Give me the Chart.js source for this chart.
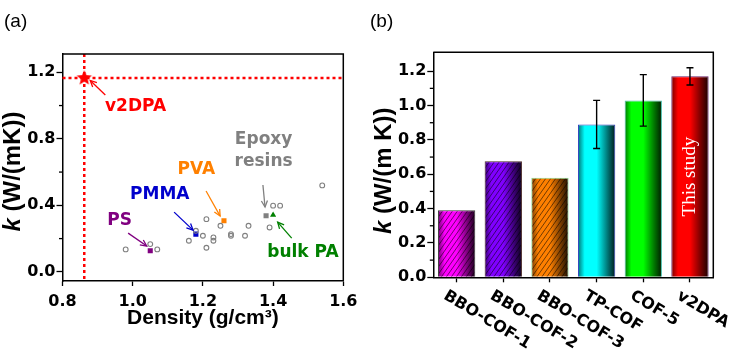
<!DOCTYPE html>
<html>
<head>
<meta charset="utf-8">
<script src="https://cdn.jsdelivr.net/npm/chart.js@4.4.0/dist/chart.umd.min.js"></script>
<style>
  html, body { margin: 0; padding: 0; background: #fff; }
  #wrap { position: relative; width: 742px; height: 351px; }
  .panel { position: absolute; top: 0; height: 351px; }
  #pa { left: 0; width: 370px; }
  #pb { left: 370px; width: 372px; }
</style>
</head>
<body>
<div id="wrap">
  <div class="panel" id="pa"><canvas id="chartA"></canvas></div>
  <div class="panel" id="pb"><canvas id="chartB"></canvas></div>
</div>
<script>
// ---- panel (a): k vs density ----
const otherDensity = [0.98, 1.05, 1.07, 1.16, 1.18, 1.20, 1.21, 1.21, 1.23, 1.23, 1.25, 1.28, 1.28, 1.32, 1.33, 1.39, 1.40, 1.42, 1.54];
const otherK = [0.135, 0.167, 0.135, 0.187, 0.247, 0.217, 0.317, 0.145, 0.207, 0.187, 0.277, 0.227, 0.217, 0.217, 0.277, 0.267, 0.398, 0.398, 0.52];
const polymerNames = ['PS', 'PMMA', 'PVA', 'Epoxy resins', 'bulk PA'];
const polymerDensity = [1.05, 1.18, 1.26, 1.38, 1.40];
const polymerK = [0.127, 0.227, 0.307, 0.337, 0.342];
const v2dpaDensity = [0.862];
const v2dpaK = [1.165];
const densityTicks = [0.8, 1.0, 1.2, 1.4, 1.6];
const kTicksA = [0.0, 0.4, 0.8, 1.2];
const kMinorA = [0.2, 0.6, 1.0];

// ---- panel (b): k of COFs ----
const cofNames = ['BBO-COF-1', 'BBO-COF-2', 'BBO-COF-3', 'TP-COF', 'COF-5', 'v2DPA'];
const cofK = [0.39, 0.675, 0.58, 0.89, 1.03, 1.17];
const cofErr = [0, 0, 0, 0.14, 0.15, 0.05];
const kTicksB = [0.0, 0.2, 0.4, 0.6, 0.8, 1.0, 1.2];
const kMinorB = [0.1, 0.3, 0.5, 0.7, 0.9, 1.1];

// styles
const polymerColors = ['#800080', '#0000cc', '#ff8000', '#808080', '#008000'];
const polymerShapes = ['rect', 'rect', 'rect', 'rect', 'triangle'];
const cofRGB = [[255, 0, 255], [128, 0, 255], [255, 128, 0], [0, 255, 255], [0, 255, 0], [255, 0, 0]];
const cofBorder = ['#3c3c3c', '#4a2a2a', '#8ad88a', '#3040c0', '#50c0b0', '#6a206a'];
const hatched = [true, true, true, false, false, false];

// label placement for panel (a), in data units
const notes = [
  { lines: ['v2DPA'], color: '#ff0000', at: [1.008, 0.995], from: [0.922, 1.064], to: [0.879, 1.151] },
  { lines: ['PS'], color: '#800080', at: [0.963, 0.311], from: [0.987, 0.233], to: [1.040, 0.155] },
  { lines: ['PMMA'], color: '#0000cc', at: [1.077, 0.462], from: [1.118, 0.359], to: [1.172, 0.251] },
  { lines: ['PVA'], color: '#ff8000', at: [1.181, 0.616], from: [1.209, 0.486], to: [1.249, 0.336] },
  { lines: ['Epoxy', 'resins'], color: '#808080', at: [1.373, 0.728], from: [1.371, 0.522], to: [1.377, 0.39] },
  { lines: ['bulk PA'], color: '#008000', at: [1.485, 0.116], from: [1.453, 0.203], to: [1.413, 0.299] }
];

const tickFont = { family: "'DejaVu Sans', sans-serif", size: 16, weight: 'bold' };
const titleFamily = "'Liberation Sans', Arial, sans-serif";

function shade(rgb, f) {
  return 'rgb(' + rgb.map(v => Math.round(v * f)).join(',') + ')';
}

function makeStar(r, color) {
  const c = document.createElement('canvas');
  c.width = c.height = 2 * r + 2;
  const g = c.getContext('2d');
  g.fillStyle = color;
  g.beginPath();
  for (let i = 0; i < 10; i++) {
    const rad = i % 2 ? r * 0.45 : r;
    const a = -Math.PI / 2 + i * Math.PI / 5;
    g.lineTo(r + 1 + rad * Math.cos(a), r + 1 + rad * Math.sin(a));
  }
  g.closePath();
  g.fill();
  return c;
}

function arrow(ctx, x1, y1, x2, y2, color) {
  ctx.strokeStyle = color;
  ctx.lineWidth = 1.3;
  ctx.beginPath();
  ctx.moveTo(x1, y1);
  ctx.lineTo(x2, y2);
  ctx.stroke();
  const a = Math.atan2(y2 - y1, x2 - x1), h = 7;
  ctx.beginPath();
  ctx.moveTo(x2 - h * Math.cos(a - 0.45), y2 - h * Math.sin(a - 0.45));
  ctx.lineTo(x2, y2);
  ctx.lineTo(x2 - h * Math.cos(a + 0.45), y2 - h * Math.sin(a + 0.45));
  ctx.stroke();
}

function frameAndMinor(chart, minorVals) {
  const { ctx, chartArea: a, scales: { y } } = chart;
  ctx.save();
  ctx.strokeStyle = '#000';
  ctx.lineWidth = 1.5;
  ctx.beginPath();
  ctx.moveTo(a.left, a.top);
  ctx.lineTo(a.right, a.top);
  ctx.lineTo(a.right, a.bottom);
  ctx.stroke();
  ctx.lineWidth = 1.3;
  minorVals.forEach(v => {
    const py = y.getPixelForValue(v);
    ctx.beginPath();
    ctx.moveTo(a.left - 3.5, py);
    ctx.lineTo(a.left, py);
    ctx.stroke();
  });
  ctx.restore();
}

function yTitle(ctx, cx, cy, rest, size) {
  ctx.save();
  ctx.translate(cx, cy);
  ctx.rotate(-Math.PI / 2);
  const fi = 'italic bold ' + size + 'px ' + titleFamily;
  const fb = 'bold ' + size + 'px ' + titleFamily;
  ctx.font = fi;
  const wk = ctx.measureText('k').width;
  ctx.font = fb;
  const wr = ctx.measureText(rest).width;
  const x0 = -(wk + wr) / 2;
  ctx.textBaseline = 'middle';
  ctx.textAlign = 'left';
  ctx.fillStyle = '#000';
  ctx.font = fi;
  ctx.fillText('k', x0, 0);
  ctx.font = fb;
  ctx.fillText(rest, x0 + wk, 0);
  ctx.restore();
}

function panelLabel(ctx, text, x) {
  ctx.save();
  ctx.font = '19px ' + titleFamily;
  ctx.fillStyle = '#000';
  ctx.textBaseline = 'middle';
  ctx.textAlign = 'left';
  ctx.fillText(text, x, 22);
  ctx.restore();
}

function fixedTicks(values) {
  return scale => { scale.ticks = values.map(v => ({ value: v })); };
}

const axisCommon = {
  grid: { drawOnChartArea: false, color: '#000', tickColor: '#000', tickWidth: 1.3 },
  border: { color: '#000', width: 1.5 }
};

// ---------- chart (a) ----------
const otherPts = otherDensity.map((d, i) => ({ x: d, y: otherK[i] }));
const polymerPts = polymerDensity.map((d, i) => ({ x: d, y: polymerK[i] }));
const v2dpaPts = v2dpaDensity.map((d, i) => ({ x: d, y: v2dpaK[i] }));

const panelAPlugin = {
  id: 'panelA',
  beforeDatasetsDraw(chart) {
    const { ctx, chartArea: a, scales: { x, y } } = chart;
    const px = x.getPixelForValue(v2dpaDensity[0]);
    const py = y.getPixelForValue(v2dpaK[0]);
    ctx.save();
    ctx.strokeStyle = '#ff0000';
    ctx.lineWidth = 2.5;
    ctx.setLineDash([3, 3]);
    ctx.beginPath();
    ctx.moveTo(px, a.top);
    ctx.lineTo(px, a.bottom);
    ctx.moveTo(a.left, py);
    ctx.lineTo(a.right, py);
    ctx.stroke();
    ctx.restore();
  },
  afterDraw(chart) {
    const { ctx, chartArea: a, scales: { x, y } } = chart;
    frameAndMinor(chart, kMinorA);
    ctx.save();
    ctx.font = 'bold 17px ' + tickFont.family;
    ctx.textAlign = 'center';
    ctx.textBaseline = 'middle';
    notes.forEach(n => {
      ctx.fillStyle = n.color;
      const cx = x.getPixelForValue(n.at[0]);
      const cy = y.getPixelForValue(n.at[1]);
      n.lines.forEach((t, i) => ctx.fillText(t, cx, cy + (i - (n.lines.length - 1) / 2) * 21.5));
      arrow(ctx, x.getPixelForValue(n.from[0]), y.getPixelForValue(n.from[1]),
        x.getPixelForValue(n.to[0]), y.getPixelForValue(n.to[1]), n.color);
    });
    ctx.restore();
    // axis titles
    yTitle(ctx, 13, (a.top + a.bottom) / 2 + 4, ' (W/(mK))', 24);
    ctx.save();
    ctx.font = 'bold 21px ' + titleFamily;
    ctx.fillStyle = '#000';
    ctx.textAlign = 'center';
    ctx.textBaseline = 'middle';
    ctx.fillText('Density (g/cm\u00B3)', (a.left + a.right) / 2, 318);
    ctx.restore();
    panelLabel(ctx, '(a)', 4);
  }
};

new Chart(document.getElementById('chartA'), {
  type: 'scatter',
  data: {
    datasets: [
      {
        data: otherPts,
        pointStyle: 'circle',
        pointRadius: 2.4,
        backgroundColor: 'rgba(255,255,255,0)',
        borderColor: '#808080',
        borderWidth: 1.1
      },
      {
        data: polymerPts,
        pointStyle: polymerShapes,
        pointRadius: 3.6,
        backgroundColor: polymerColors,
        borderColor: polymerColors,
        borderWidth: 0
      },
      {
        data: v2dpaPts,
        pointStyle: makeStar(8, '#ff0000'),
        pointRadius: 8
      }
    ]
  },
  options: {
    responsive: true,
    maintainAspectRatio: false,
    animation: false,
    devicePixelRatio: 1,
    layout: { padding: { top: 54, right: 26.7, left: 0, bottom: 0 } },
    plugins: { legend: { display: false }, tooltip: { enabled: false } },
    scales: {
      x: {
        ...axisCommon,
        type: 'linear',
        min: 0.8,
        max: 1.6,
        afterBuildTicks: fixedTicks(densityTicks),
        afterFit(s) { s.height = 70; },
        grid: { ...axisCommon.grid, tickLength: 5 },
        ticks: { font: tickFont, color: '#000', padding: 6, maxRotation: 0, callback: v => v.toFixed(1) }
      },
      y: {
        ...axisCommon,
        min: -0.055,
        max: 1.31,
        afterBuildTicks: fixedTicks(kTicksA),
        afterFit(s) { s.width = 62.5; },
        grid: { ...axisCommon.grid, tickLength: 6 },
        ticks: { font: tickFont, color: '#000', padding: 1, callback: v => v.toFixed(1) }
      }
    }
  },
  plugins: [panelAPlugin]
});

// ---------- chart (b) ----------
function barFill(c) {
  const chart = c.chart;
  const xs = chart.scales.x;
  const rgb = cofRGB[c.dataIndex];
  if (!xs || !chart.chartArea || !isFinite(xs.width)) return shade(rgb, 1);
  const cx = xs.getPixelForValue(c.dataIndex);
  const w = xs.width / cofNames.length * 0.8;
  const g = chart.ctx.createLinearGradient(cx - w / 2, 0, cx + w / 2, 0);
  g.addColorStop(0, shade(rgb, 0.45));
  g.addColorStop(0.18, shade(rgb, 1));
  g.addColorStop(0.5, shade(rgb, 1));
  g.addColorStop(0.8, shade(rgb, 0.45));
  g.addColorStop(1, shade(rgb, 0.1));
  return g;
}

const panelBPlugin = {
  id: 'panelB',
  afterDatasetsDraw(chart) {
    const { ctx, scales: { x, y } } = chart;
    const meta = chart.getDatasetMeta(0);
    ctx.save();
    // hatching
    meta.data.forEach((el, i) => {
      if (!hatched[i]) return;
      const { x: bx, y: by, base, width } = el.getProps(['x', 'y', 'base', 'width'], true);
      const left = bx - width / 2, h = base - by;
      ctx.save();
      ctx.beginPath();
      ctx.rect(left + 1, by + 1, width - 2, h - 1);
      ctx.clip();
      ctx.strokeStyle = 'rgba(0,0,0,0.55)';
      ctx.lineWidth = 1;
      const run = h / Math.tan(55 * Math.PI / 180);
      ctx.beginPath();
      for (let t = -run; t < width; t += 5) {
        ctx.moveTo(left + t, base);
        ctx.lineTo(left + t + run, by);
      }
      ctx.stroke();
      ctx.restore();
    });
    // error bars
    ctx.strokeStyle = '#000';
    ctx.lineWidth = 1.4;
    meta.data.forEach((el, i) => {
      if (!cofErr[i]) return;
      const px = el.x;
      const yt = y.getPixelForValue(cofK[i] + cofErr[i]);
      const yb = y.getPixelForValue(cofK[i] - cofErr[i]);
      ctx.beginPath();
      ctx.moveTo(px, yt); ctx.lineTo(px, yb);
      ctx.moveTo(px - 3.5, yt); ctx.lineTo(px + 3.5, yt);
      ctx.moveTo(px - 3.5, yb); ctx.lineTo(px + 3.5, yb);
      ctx.stroke();
    });
    // "This study" on the last bar
    const last = meta.data[meta.data.length - 1];
    ctx.translate(last.x, (last.y + last.base) / 2);
    ctx.rotate(-Math.PI / 2);
    ctx.font = "19px 'Liberation Serif', 'Times New Roman', serif";
    ctx.fillStyle = '#fff';
    ctx.textAlign = 'center';
    ctx.textBaseline = 'middle';
    ctx.fillText('This study', 0, 0);
    ctx.restore();
  },
  afterDraw(chart) {
    const { ctx, chartArea: a, scales: { x } } = chart;
    frameAndMinor(chart, kMinorB);
    // rotated category labels
    ctx.save();
    ctx.font = 'bold 16px ' + tickFont.family;
    ctx.fillStyle = '#000';
    ctx.textAlign = 'left';
    ctx.textBaseline = 'alphabetic';
    cofNames.forEach((name, i) => {
      const px = x.getPixelForValue(i);
      ctx.save();
      ctx.translate(px - 14, a.bottom + 21);
      ctx.rotate(31 * Math.PI / 180);
      ctx.fillText(name, 0, 0);
      ctx.restore();
    });
    ctx.restore();
    yTitle(ctx, 14, (a.top + a.bottom) / 2 + 6, ' (W/(m K))', 24);
    panelLabel(ctx, '(b)', 0);
  }
};

new Chart(document.getElementById('chartB'), {
  type: 'bar',
  data: {
    labels: cofNames,
    datasets: [{
      data: cofK,
      backgroundColor: barFill,
      borderColor: cofBorder,
      borderWidth: 1,
      barPercentage: 0.8,
      categoryPercentage: 1
    }]
  },
  options: {
    responsive: true,
    maintainAspectRatio: false,
    animation: false,
    devicePixelRatio: 1,
    layout: { padding: { top: 52.3, right: 28.7, left: 0, bottom: 0 } },
    plugins: { legend: { display: false }, tooltip: { enabled: false } },
    scales: {
      x: {
        ...axisCommon,
        afterFit(s) { s.height = 73.7; },
        grid: { ...axisCommon.grid, tickLength: 5, offset: false },
        ticks: { display: false }
      },
      y: {
        ...axisCommon,
        min: 0,
        max: 1.31,
        afterBuildTicks: fixedTicks(kTicksB),
        afterFit(s) { s.width = 63.3; },
        grid: { ...axisCommon.grid, tickLength: 6 },
        ticks: { font: tickFont, color: '#000', padding: 1, callback: v => v.toFixed(1) }
      }
    }
  },
  plugins: [panelBPlugin]
});
</script>
</body>
</html>
